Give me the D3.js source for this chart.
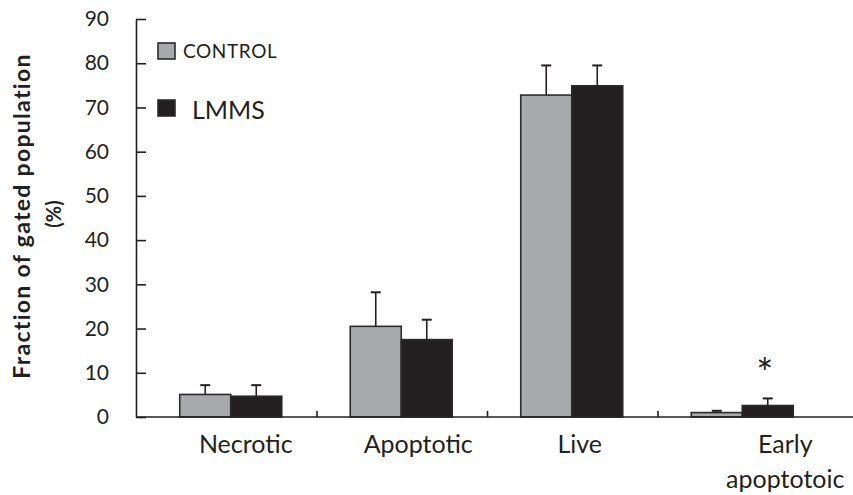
<!DOCTYPE html>
<html>
<head>
<meta charset="utf-8">
<script src="https://cdn.jsdelivr.net/npm/d3@7"></script>
<style>
  body { margin: 0; background: #fff; }
  text { font-family: Lato, "Open Sans", sans-serif; fill: #231f20; }
</style>
</head>
<body>
<div id="chart"></div>
<script>
// Data
const categories = ["Necrotic", "Apoptotic", "Live", "Early apoptotoic"];
const groups = ["CONTROL", "LMMS"];
const controlMean = [5.1, 20.5, 72.8, 1.0];
const controlSd = [2.1, 7.7, 6.7, 0.4];
const lmmsMean = [4.7, 17.5, 74.9, 2.6];
const lmmsSd = [2.5, 4.5, 4.6, 1.6];
const yTicks = [0, 10, 20, 30, 40, 50, 60, 70, 80, 90];
const significant = ["Early apoptotoic"];

const width = 853, height = 495;
const x0 = 136, yBase = 417, yTop = 19;
// label nudges (the original labels are not centred under the bars)
const labelShift = [14, 16, 7, 42];

const rows = [];
categories.forEach((c, i) => {
    rows.push({ cat: c, group: "CONTROL", mean: controlMean[i], sd: controlSd[i] });
    rows.push({ cat: c, group: "LMMS", mean: lmmsMean[i], sd: lmmsSd[i] });
});

const svg = d3.select("#chart")
    .append("svg")
    .attr("width", width)
    .attr("height", height);

// Scales
const x = d3.scaleBand()
    .domain(categories)
    .range([146.5, 828.5])
    .padding(0);

const xInner = d3.scaleBand()
    .domain(groups)
    .range([x.bandwidth() / 2 - 52, x.bandwidth() / 2 + 50])
    .padding(0);

const y = d3.scaleLinear()
    .domain([0, 90])
    .range([yBase, yTop]);

const color = d3.scaleOrdinal()
    .domain(groups)
    .range(["#a7a9ac", "#231f20"]);

// Bars
svg.append("g")
    .selectAll("rect")
    .data(rows)
    .enter()
    .append("rect")
    .attr("x", d => x(d.cat) + xInner(d.group))
    .attr("y", d => y(d.mean))
    .attr("width", xInner.bandwidth())
    .attr("height", d => y(0) - y(d.mean))
    .attr("fill", d => color(d.group))
    .attr("stroke", "#2b2b2b")
    .attr("stroke-width", 1.6);

// Error bars (upper only)
const err = svg.append("g")
    .selectAll("g")
    .data(rows)
    .enter()
    .append("g")
    .attr("stroke", "#231f20");

err.append("line")
    .attr("x1", d => x(d.cat) + xInner(d.group) + xInner.bandwidth() / 2)
    .attr("x2", d => x(d.cat) + xInner(d.group) + xInner.bandwidth() / 2)
    .attr("y1", d => y(d.mean))
    .attr("y2", d => y(d.mean + d.sd))
    .attr("stroke-width", 1.6);

err.append("line")
    .attr("x1", d => x(d.cat) + xInner(d.group) + xInner.bandwidth() / 2 - 5)
    .attr("x2", d => x(d.cat) + xInner(d.group) + xInner.bandwidth() / 2 + 5)
    .attr("y1", d => y(d.mean + d.sd))
    .attr("y2", d => y(d.mean + d.sd))
    .attr("stroke-width", 2);

// Y axis
const yAxis = svg.append("g")
    .attr("transform", `translate(${x0},0)`)
    .call(d3.axisLeft(y).tickValues(yTicks).tickSizeInner(-10).tickSizeOuter(0).tickPadding(27));
yAxis.select(".domain").attr("stroke", "#231f20").attr("stroke-width", 1.6);
yAxis.selectAll(".tick line").attr("stroke", "#231f20").attr("stroke-width", 1.6);
yAxis.selectAll(".tick text")
    .attr("font-size", 21)
    .attr("font-family", "Lato, sans-serif")
    .attr("fill", "#231f20");

// X axis line
svg.append("line")
    .attr("x1", x0)
    .attr("x2", width)
    .attr("y1", yBase)
    .attr("y2", yBase)
    .attr("stroke", "#231f20")
    .attr("stroke-width", 1.6);

// Category separators
svg.append("g")
    .selectAll("line")
    .data(categories.slice(1))
    .enter()
    .append("line")
    .attr("x1", d => x(d))
    .attr("x2", d => x(d))
    .attr("y1", yBase)
    .attr("y2", yBase - 6)
    .attr("stroke", "#231f20")
    .attr("stroke-width", 1.6);

// Category labels
const labels = svg.append("g")
    .selectAll("text")
    .data(categories)
    .enter()
    .append("text")
    .attr("x", (d, i) => x(d) + x.bandwidth() / 2 + labelShift[i])
    .attr("y", 453)
    .attr("text-anchor", "middle")
    .attr("font-size", 25);

labels.selectAll("tspan")
    .data(d => d.split(" "))
    .enter()
    .append("tspan")
    .attr("x", function() { return d3.select(this.parentNode).attr("x"); })
    .attr("dy", (d, i) => i === 0 ? 0 : 35)
    .text(d => d);

// Significance marker
svg.append("g")
    .selectAll("text")
    .data(significant)
    .enter()
    .append("text")
    .attr("x", d => x(d) + xInner("LMMS") + xInner.bandwidth() / 2 - 3)
    .attr("y", d => y(lmmsMean[categories.indexOf(d)] + lmmsSd[categories.indexOf(d)]) - 10)
    .attr("text-anchor", "middle")
    .attr("font-size", 40)
    .text("*");

// Y axis title
svg.append("text")
    .attr("transform", "translate(30,216) rotate(-90)")
    .attr("text-anchor", "middle")
    .attr("font-size", 23)
    .attr("font-weight", "bold")
    .attr("letter-spacing", 1.3)
    .text("Fraction of gated population");

svg.append("text")
    .attr("transform", "translate(61,214) rotate(-90)")
    .attr("text-anchor", "middle")
    .attr("font-size", 20)
    .attr("font-weight", "bold")
    .text("(%)");

// Legend
const legendY = [43, 100];
const legendFont = [19, 25];
const legendTextX = [183, 192];
const legendBase = [58, 119];

groups.forEach((g, i) => {
    svg.append("rect")
        .attr("x", 158)
        .attr("y", legendY[i])
        .attr("width", 17)
        .attr("height", 16)
        .attr("fill", color(g))
        .attr("stroke", "#2b2b2b")
        .attr("stroke-width", 1.6);

    svg.append("text")
        .attr("x", legendTextX[i])
        .attr("y", legendBase[i])
        .attr("font-size", legendFont[i])
        .attr("letter-spacing", i === 0 ? 0.6 : 0)
        .text(g);
});
</script>
</body>
</html>
